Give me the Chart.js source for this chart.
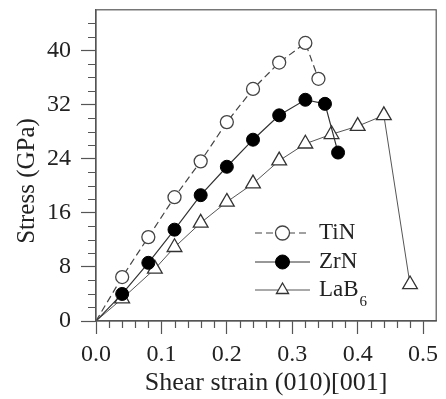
<!DOCTYPE html>
<html>
<head>
<meta charset="utf-8">
<script src="https://cdn.jsdelivr.net/npm/chart.js@4"></script>
<style>
  body { margin: 0; background: #fff; }
  #wrap { width: 446px; height: 399px; }
</style>
</head>
<body>
<div id="wrap"><canvas id="c" width="446" height="399"></canvas></div>
<script>
// values
const tinStrain = [0, 0.04, 0.08, 0.12, 0.16, 0.20, 0.24, 0.28, 0.32, 0.34];
const tinStress = [0, 6.5, 12.4, 18.3, 23.6, 29.4, 34.3, 38.2, 41.1, 35.8];

const zrnStrain = [0, 0.04, 0.08, 0.12, 0.16, 0.20, 0.24, 0.28, 0.32, 0.35, 0.37];
const zrnStress = [0, 4.0, 8.6, 13.5, 18.6, 22.8, 26.8, 30.4, 32.7, 32.1, 24.9];

const labStrain = [0, 0.04, 0.09, 0.12, 0.16, 0.20, 0.24, 0.28, 0.32, 0.36, 0.40, 0.44, 0.48];
const labStress = [0, 3.3, 7.7, 10.9, 14.5, 17.6, 20.3, 23.7, 26.2, 27.6, 28.8, 30.4, 5.4];

const xTicks = [0, 0.1, 0.2, 0.3, 0.4, 0.5];
const yTicks = [0, 8, 16, 24, 32, 40];

const FONT = "'Liberation Serif', 'Times New Roman', serif";
const AXIS = "#555";

function pts(xs, ys) {
  return xs.map((x, i) => ({ x: x, y: ys[i] }));
}
// no marker on the origin point
function radii(xs, r) {
  return xs.map((x, i) => i === 0 ? 0 : r);
}

// minor ticks, box frame and the y title
const framePlugin = {
  id: 'frame',
  afterDraw(chart) {
    const ctx = chart.ctx;
    const a = chart.chartArea;
    const xs = chart.scales.x, ys = chart.scales.y;
    ctx.save();
    ctx.strokeStyle = AXIS;
    ctx.lineWidth = 1.2;
    ctx.strokeRect(a.left, a.top, a.right - a.left, a.bottom - a.top);
    ctx.beginPath();
    for (let v = 0.02; v < xs.max; v += 0.02) {
      if (Math.abs(v * 10 - Math.round(v * 10)) < 1e-6) continue;
      const px = Math.round(xs.getPixelForValue(v)) + 0.5;
      ctx.moveTo(px, a.bottom);
      ctx.lineTo(px, a.bottom + 7);
    }
    for (let v = 2; v < ys.max; v += 2) {
      if (v % 8 === 0) continue;
      const py = Math.round(ys.getPixelForValue(v)) + 0.5;
      ctx.moveTo(a.left, py);
      ctx.lineTo(a.left - 8, py);
    }
    ctx.stroke();

    ctx.translate(27, 181);
    ctx.rotate(-Math.PI / 2);
    ctx.fillStyle = '#222';
    ctx.font = "25px " + FONT;
    ctx.textAlign = 'center';
    ctx.textBaseline = 'middle';
    ctx.fillText('Stress (GPa)', 0, 0);
    ctx.restore();
  }
};

// legend drawn inside the plot
const legendPlugin = {
  id: 'inLegend',
  afterDraw(chart) {
    const ctx = chart.ctx;
    const rows = [233, 262, 290];
    const x0 = 255, x1 = 310, tx = 319;
    ctx.save();
    chart.data.datasets.forEach((ds, i) => {
      const y = rows[i];
      ctx.strokeStyle = ds.borderColor;
      ctx.lineWidth = ds.borderWidth;
      ctx.setLineDash(ds.borderDash || []);
      ctx.beginPath();
      ctx.moveTo(x0, y);
      ctx.lineTo(x1, y);
      ctx.stroke();
      ctx.setLineDash([]);
      ctx.fillStyle = ds.pointBackgroundColor;
      ctx.strokeStyle = ds.pointBorderColor;
      ctx.lineWidth = ds.pointBorderWidth;
      Chart.helpers.drawPoint(ctx, {
        pointStyle: ds.pointStyle, radius: 7, borderWidth: ds.pointBorderWidth, rotation: 0
      }, (x0 + x1) / 2, y);
      ctx.fillStyle = '#222';
      ctx.font = "23px " + FONT;
      ctx.textBaseline = 'middle';
      ctx.textAlign = 'left';
      const name = ds.label;
      if (name === 'LaB6') {
        ctx.fillText('LaB', tx, y);
        const w = ctx.measureText('LaB').width;
        ctx.font = "15px " + FONT;
        ctx.fillText('6', tx + w + 1, y + 12);
      } else {
        ctx.fillText(name, tx, y);
      }
    });
    ctx.restore();
  }
};

new Chart(document.getElementById('c'), {
  type: 'scatter',
  data: {
    datasets: [
      {
        label: 'TiN',
        data: pts(tinStrain, tinStress),
        showLine: true,
        borderColor: '#444',
        borderWidth: 1.2,
        borderDash: [7, 4],
        pointStyle: 'circle',
        pointRadius: radii(tinStrain, 6.5),
        pointBackgroundColor: '#fff',
        pointBorderColor: '#444',
        pointBorderWidth: 1.3
      },
      {
        label: 'ZrN',
        data: pts(zrnStrain, zrnStress),
        showLine: true,
        borderColor: '#333',
        borderWidth: 1.2,
        pointStyle: 'circle',
        pointRadius: radii(zrnStrain, 6.5),
        pointBackgroundColor: '#000',
        pointBorderColor: '#000',
        pointBorderWidth: 1
      },
      {
        label: 'LaB6',
        data: pts(labStrain, labStress),
        showLine: true,
        borderColor: '#555',
        borderWidth: 1,
        pointStyle: 'triangle',
        pointRadius: radii(labStrain, 8.5),
        pointBackgroundColor: '#fff',
        pointBorderColor: '#333',
        pointBorderWidth: 1.3
      }
    ]
  },
  options: {
    responsive: false,
    animation: false,
    layout: { padding: { left: 0, top: 9, right: 5, bottom: 0 } },
    plugins: {
      legend: { display: false },
      tooltip: { enabled: false }
    },
    scales: {
      x: {
        type: 'linear',
        min: 0,
        max: 0.52,
        afterFit(s) { s.height = 78; s.paddingLeft = 0; s.paddingRight = 0; },
        afterBuildTicks(s) { s.ticks = xTicks.map(v => ({ value: v })); },
        border: { color: AXIS, width: 1.2 },
        grid: { drawOnChartArea: false, tickLength: 13, color: AXIS, tickWidth: 1.2 },
        ticks: {
          color: '#222',
          font: { family: FONT, size: 24 },
          padding: 6,
          callback: v => v.toFixed(1)
        },
        title: {
          display: true,
          text: 'Shear strain (010)[001]',
          color: '#222',
          font: { family: FONT, size: 26 },
          padding: { top: 0, bottom: 0 }
        }
      },
      y: {
        type: 'linear',
        min: 0,
        max: 46,
        afterFit(s) { s.width = 96; s.paddingTop = 0; s.paddingBottom = 0; },
        afterBuildTicks(s) { s.ticks = yTicks.map(v => ({ value: v })); },
        border: { color: AXIS, width: 1.2 },
        grid: { drawOnChartArea: false, tickLength: 15, color: AXIS, tickWidth: 1.2 },
        ticks: {
          color: '#222',
          font: { family: FONT, size: 24 },
          padding: 10
        }
      }
    }
  },
  plugins: [framePlugin, legendPlugin]
});
</script>
</body>
</html>
